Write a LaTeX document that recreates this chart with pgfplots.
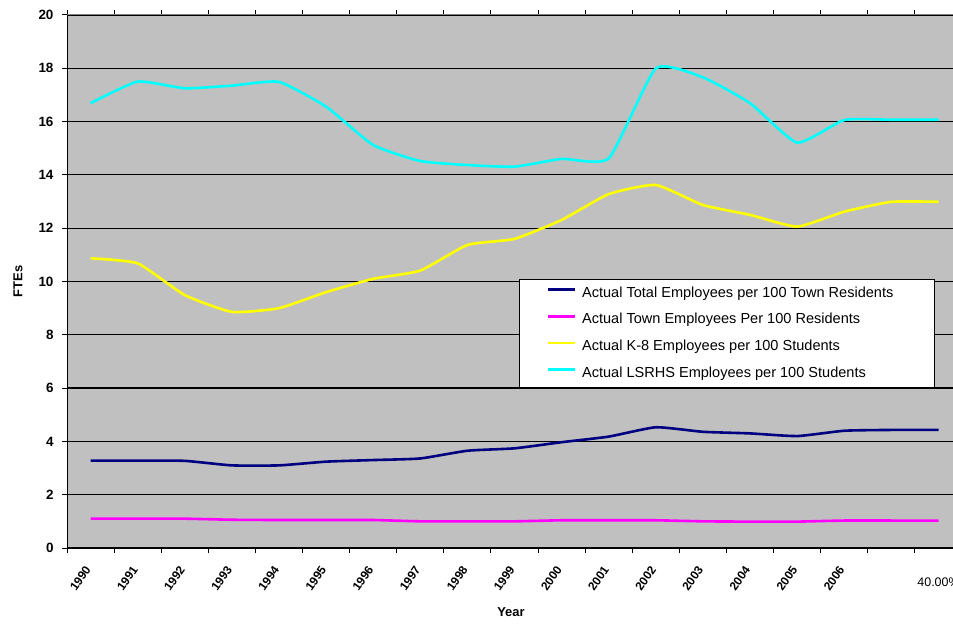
\documentclass[border=0pt]{standalone}
\usepackage{pgfplots}
\pgfplotsset{compat=1.18}
\usepackage{fontspec}
\setmainfont{Liberation Sans}
\definecolor{plotbg}{HTML}{C0C0C0}
\definecolor{bordergray}{HTML}{808080}
\definecolor{xlnavy}{HTML}{000080}
\definecolor{xlmagenta}{HTML}{FF00FF}
\definecolor{xlyellow}{HTML}{FFFF00}
\definecolor{xlcyan}{HTML}{00FFFF}
\pgfplotstableread{
x total town keight lsrhs
0  3.28 1.10 10.87 16.69
1  3.28 1.10 10.68 17.50
2  3.27 1.10  9.49 17.25
3  3.10 1.06  8.86 17.35
4  3.10 1.05  9.00 17.49
5  3.24 1.05  9.60 16.56
6  3.30 1.05 10.10 15.12
7  3.36 1.00 10.41 14.52
8  3.65 1.00 11.37 14.37
9  3.74 1.00 11.60 14.31
10 3.97 1.04 12.31 14.60
11 4.18 1.04 13.28 14.62
12 4.53 1.04 13.62 18.00
13 4.36 1.00 12.87 17.66
14 4.30 0.99 12.50 16.69
15 4.20 0.99 12.06 15.21
16 4.40 1.03 12.62 16.06
17 4.43 1.03 12.99 16.07
18 4.43 1.03 12.99 16.07
}\datatable
\begin{document}
\begin{tikzpicture}
\begin{axis}[
  at={(67bp,76bp)}, anchor=south west,
  width=888bp, height=533bp, scale only axis,
  xmin=-0.5, xmax=18.35, ymin=0, ymax=20,
  clip=false,
  axis background/.style={fill=plotbg},
  axis line style={draw=bordergray, line width=1bp},
  ytick={0,2,...,20},
  ymajorgrids, major grid style={black, line width=1.2bp},
  xtick={-0.5,0.5,...,17.5}, xticklabels={},
  extra x ticks={0,...,16},
  extra x tick labels={\rotatebox{55}{1990},\rotatebox{55}{1991},\rotatebox{55}{1992},\rotatebox{55}{1993},\rotatebox{55}{1994},\rotatebox{55}{1995},\rotatebox{55}{1996},\rotatebox{55}{1997},\rotatebox{55}{1998},\rotatebox{55}{1999},\rotatebox{55}{2000},\rotatebox{55}{2001},\rotatebox{55}{2002},\rotatebox{55}{2003},\rotatebox{55}{2004},\rotatebox{55}{2005},\rotatebox{55}{2006}},
  extra x tick style={tick style={draw=none}, grid=none,
    xticklabel style={anchor=north east, inner sep=0pt, yshift=-12bp, xshift=1bp, font=\fontsize{12}{14}\selectfont\bfseries}},
  tick align=outside, major tick length=5bp,
  tick style={black, line width=1bp},
  /pgf/number format/assume math mode=true,
  yticklabel style={font=\fontsize{13.5}{15}\selectfont\bfseries, xshift=-5bp},
  xlabel={Year}, ylabel={FTEs},
  xlabel style={at={(axis description cs:0.5,-0.12)}, anchor=center, font=\fontsize{13}{15}\selectfont\bfseries},
  ylabel style={at={(axis description cs:-0.0552,0.5)}, anchor=center, font=\fontsize{13}{15}\selectfont\bfseries},
  legend cell align=left,
  legend image code/.code={\draw[#1] (0bp,4bp) -- (27bp,4bp);},
  legend style={at={(0.509,0.5047)}, anchor=north west, draw=black, line width=1bp, fill=white,
    font=\fontsize{14.6}{16}\selectfont, row sep=13.4bp, column sep=6bp,
    inner xsep=27bp, inner ysep=7.5bp,
    nodes={inner sep=0pt, text height=10.3bp, text depth=3bp}},
]
\addplot[xlnavy, line width=2.6bp, smooth, tension=0.3] table[x=x, y=total] {\datatable};
\addlegendentry{Actual Total Employees per 100 Town Residents\hspace*{14bp}}
\addplot[xlmagenta, line width=2.6bp, smooth, tension=0.3] table[x=x, y=town] {\datatable};
\addlegendentry{Actual Town Employees Per 100 Residents}
\addplot[xlyellow, line width=2.6bp, smooth, tension=0.3] table[x=x, y=keight] {\datatable};
\addlegendentry{Actual K-8 Employees per 100 Students}
\addplot[xlcyan, line width=2.6bp, smooth, tension=0.3] table[x=x, y=lsrhs] {\datatable};
\addlegendentry{Actual LSRHS Employees per 100 Students}
\draw[black, line width=1bp] (rel axis cs:0,0) -- (rel axis cs:0,1);
\draw[black, line width=1bp] (rel axis cs:0,0) -- (rel axis cs:1,0);
\coordinate (c18) at (axis cs:18,0);
\end{axis}
\node[anchor=north, inner sep=0pt, font=\fontsize{12.5}{14}\selectfont] at ([yshift=-30bp]c18) {40.00\%};
\pgfresetboundingbox
\path[use as bounding box] (0,0) rectangle (953bp,624bp);
\end{tikzpicture}
\end{document}
